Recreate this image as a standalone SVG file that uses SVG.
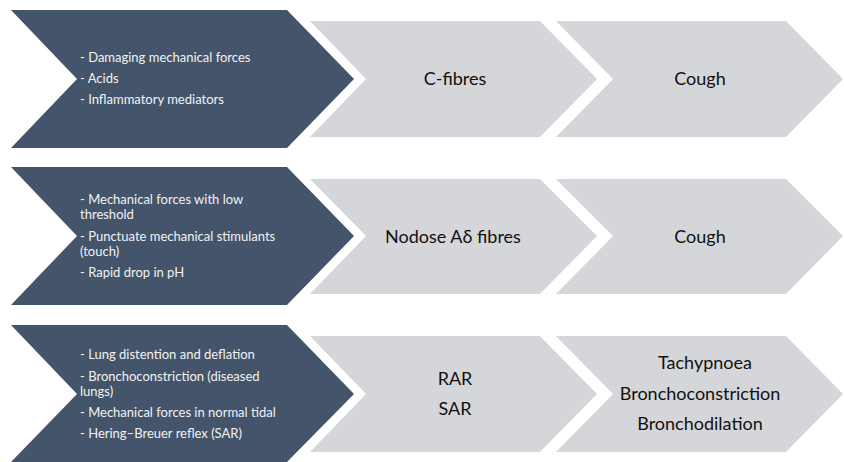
<svg xmlns="http://www.w3.org/2000/svg" width="844" height="462" viewBox="0 0 844 462">
<style>
.dark{fill:#44546A}
.light{fill:#D5D6D9}
.wt{font-family:"Lato","Liberation Sans",sans-serif;font-size:13px;fill:#F2F2F2}
.bt{font-family:"Lato","Liberation Sans",sans-serif;font-size:18px;fill:#111;text-anchor:middle}
</style>
<rect width="844" height="462" fill="#fff"/>
<g id="row1-input">
<polygon class="dark" points="11,10 287,10 354,79 287,148 11,148 77,79"/>
<text class="wt"><tspan x="80" y="62">- Damaging mechanical forces</tspan><tspan x="80" y="83">- Acids</tspan><tspan x="80" y="104">- Inflammatory mediators</tspan></text>
</g>
<g id="row1-fibre">
<polygon class="light" points="310,21 540,21 597,79 540,137 310,137 366,79"/>
<text class="bt" x="455" y="85">C-fibres</text>
</g>
<g id="row1-response">
<polygon class="light" points="556,21 786,21 843,79 786,137 556,137 613,79"/>
<text class="bt" x="700" y="85">Cough</text>
</g>
<g id="row2-input">
<polygon class="dark" points="11,167 287,167 354,236 287,305 11,305 77,236"/>
<text class="wt"><tspan x="80" y="204">- Mechanical forces with low</tspan><tspan x="80" y="219">threshold</tspan><tspan x="80" y="241">- Punctuate mechanical stimulants</tspan><tspan x="80" y="256">(touch)</tspan><tspan x="80" y="277">- Rapid drop in pH</tspan></text>
</g>
<g id="row2-fibre">
<polygon class="light" points="310,179 540,179 597,236 540,294 310,294 366,236"/>
<text class="bt" x="453" y="243">Nodose Aδ fibres</text>
</g>
<g id="row2-response">
<polygon class="light" points="556,179 786,179 843,236 786,294 556,294 613,236"/>
<text class="bt" x="700" y="243">Cough</text>
</g>
<g id="row3-input">
<polygon class="dark" points="11,325 287,325 354,394 287,462 11,462 77,394"/>
<text class="wt"><tspan x="80" y="359">- Lung distention and deflation</tspan><tspan x="80" y="381">- Bronchoconstriction (diseased</tspan><tspan x="80" y="396">lungs)</tspan><tspan x="80" y="417">- Mechanical forces in normal tidal</tspan><tspan x="80" y="438">- Hering–Breuer reflex (SAR)</tspan></text>
</g>
<g id="row3-fibre">
<polygon class="light" points="310,336 540,336 597,394 540,452 310,452 366,394"/>
<text class="bt" x="455" y="385">RAR</text>
<text class="bt" x="455" y="415">SAR</text>
</g>
<g id="row3-response">
<polygon class="light" points="556,336 786,336 843,394 786,452 556,452 613,394"/>
<text class="bt" x="705" y="369">Tachypnoea</text>
<text class="bt" x="700" y="400">Bronchoconstriction</text>
<text class="bt" x="700" y="430">Bronchodilation</text>
</g>
<g id="connectors"/>
</svg>
